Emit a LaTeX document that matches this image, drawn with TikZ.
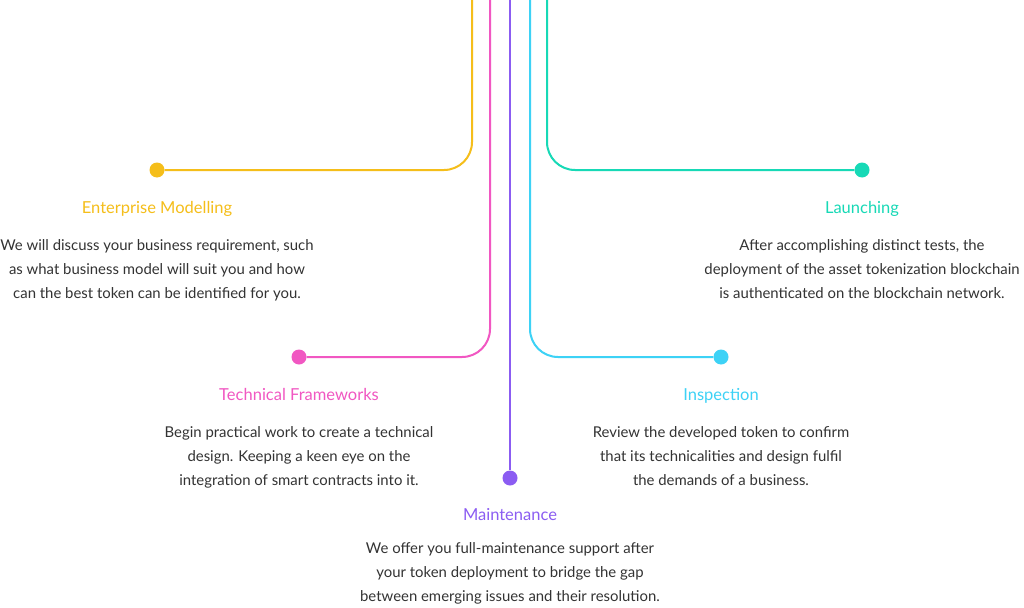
\documentclass[tikz,border=0pt]{standalone}
\usepackage{fontspec}
\setmainfont{Lato}
\definecolor{cyel}{HTML}{F5BE1A}
\definecolor{cpink}{HTML}{F157C2}
\definecolor{cpurp}{HTML}{8B5CF2}
\definecolor{cblue}{HTML}{3DD2F6}
\definecolor{cgreen}{HTML}{17D9B6}
\definecolor{ctext}{HTML}{333333}
\begin{document}
\begin{tikzpicture}[x=1pt,y=-1pt,
  wire/.style={line width=2pt,rounded corners=28pt},
  dot/.style={circle,fill=#1,minimum size=15pt,inner sep=0pt},
  title/.style={text=#1,font=\fontsize{16.5}{18}\selectfont,anchor=base,inner sep=0pt},
  body/.style={text=ctext,font=\fontsize{14.9}{24}\selectfont,align=center,anchor=base,inner sep=0pt}]
\useasboundingbox[fill=white] (0,0) rectangle (1024,607);
% top coordinates
\coordinate (s1) at (472,0);
\coordinate (s2) at (490,0);
\coordinate (s3) at (510,0);
\coordinate (s4) at (530,0);
\coordinate (s5) at (547,0);
% dots
\node[dot=cyel] (d1) at (157,170) {};
\node[dot=cpink] (d2) at (299,357) {};
\node[dot=cpurp] (d3) at (510,478) {};
\node[dot=cblue] (d4) at (721,357) {};
\node[dot=cgreen] (d5) at (862,170) {};
% wires
\draw[wire,cyel] (s1) |- (d1);
\draw[wire,cpink] (s2) |- (d2);
\draw[wire,cpurp] (s3) -- (d3);
\draw[wire,cblue] (s4) |- (d4);
\draw[wire,cgreen] (s5) |- (d5);
% titles
\node[title=cyel] (t1) at (157,213) {Enterprise Modelling};
\node[title=cpink] (t2) at (299,400) {Technical Frameworks};
\node[title=cpurp] (t3) at (510,520) {Maintenance};
\node[title=cblue] (t4) at (721,400) {Inspection};
\node[title=cgreen] (t5) at (862,213) {Launching};
% bodies (base anchor = last line)
\node[body] (b1) at (157,298) {We will discuss your business requirement, such\\as what business model will suit you and how\\can the best token can be identified for you.};
\node[body] (b2) at (299,485) {Begin practical work to create a technical\\design. Keeping a keen eye on the\\integration of smart contracts into it.};
\node[body] (b3) at (510,601) {We offer you full-maintenance support after\\your token deployment to bridge the gap\\between emerging issues and their resolution.};
\node[body] (b4) at (721,485) {Review the developed token to confirm\\that its technicalities and design fulfil\\the demands of a business.};
\node[body] (b5) at (862,298) {After accomplishing distinct tests, the\\deployment of the asset tokenization blockchain\\is authenticated on the blockchain network.};
\end{tikzpicture}
\end{document}
